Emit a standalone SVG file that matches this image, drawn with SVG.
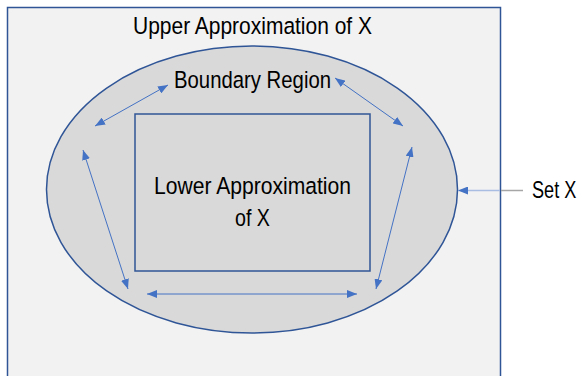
<svg xmlns="http://www.w3.org/2000/svg" width="582" height="376" viewBox="0 0 582 376">
  <style>
    .lbl { font-family: "Liberation Sans", Arial, sans-serif; font-size: 24.5px; fill: #000; }
    .shape { stroke: #2f5597; stroke-width: 1.5; }
    .conn { stroke: #4472c4; stroke-width: 1; fill: none; }
  </style>
  <defs>
    <marker id="ah" viewBox="0 0 10 8" refX="10" refY="4" markerWidth="10" markerHeight="8" markerUnits="userSpaceOnUse" orient="auto-start-reverse">
      <path d="M0,0 L10,4 L0,8 z" fill="#4472c4"/>
    </marker>
  </defs>
  <rect width="582" height="376" fill="#ffffff"/>
  <g id="upper">
    <rect class="shape" x="7.5" y="7.5" width="493" height="380" fill="#f2f2f2"/>
    <text class="lbl" x="133" y="33.5" textLength="239" lengthAdjust="spacingAndGlyphs">Upper Approximation of X</text>
  </g>
  <g id="boundary">
    <ellipse class="shape" cx="252" cy="189.5" rx="205.5" ry="143.5" fill="#d9d9d9"/>
    <text class="lbl" x="174" y="87.5" textLength="157" lengthAdjust="spacingAndGlyphs">Boundary Region</text>
  </g>
  <g id="lower">
    <rect class="shape" x="135" y="114" width="235" height="157" fill="#d9d9d9"/>
    <text class="lbl" x="154" y="193.5" textLength="197" lengthAdjust="spacingAndGlyphs">Lower Approximation</text>
    <text class="lbl" x="235" y="225.5" textLength="35" lengthAdjust="spacingAndGlyphs">of X</text>
  </g>
  <g id="setx">
    <text class="lbl" transform="translate(532 197.5) scale(0.74 1)" x="0" y="0">Set X</text>
  </g>
  <g id="connectors">
    <line class="conn" x1="95" y1="126" x2="168" y2="85" marker-start="url(#ah)" marker-end="url(#ah)"/>
    <line class="conn" x1="335" y1="78" x2="403" y2="126" marker-start="url(#ah)" marker-end="url(#ah)"/>
    <line class="conn" x1="83" y1="150" x2="128" y2="289" marker-start="url(#ah)" marker-end="url(#ah)"/>
    <line class="conn" x1="412" y1="147" x2="376" y2="289" marker-start="url(#ah)" marker-end="url(#ah)"/>
    <line class="conn" x1="147" y1="294" x2="357" y2="294" marker-start="url(#ah)" marker-end="url(#ah)"/>
    <line x1="523" y1="190.5" x2="501" y2="190.5" stroke="#a6a6a6" stroke-width="1.5"/>
    <line x1="500" y1="190.5" x2="458" y2="190.5" stroke="#a9bde3" stroke-width="1.5" marker-end="url(#ah)"/>
  </g>
</svg>
